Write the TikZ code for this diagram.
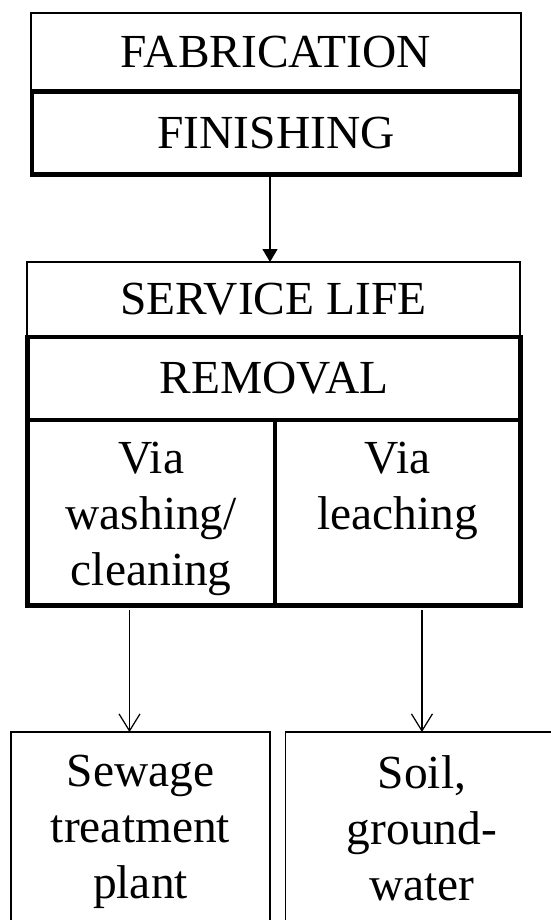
\documentclass[tikz,border=0pt]{standalone}
\usepackage{fontspec}
\setmainfont{Liberation Serif}
\usetikzlibrary{arrows.meta,positioning}
\tikzset{
  box/.style={draw,line width=0.75pt,inner sep=0pt,outer sep=0pt,font=\fontsize{27pt}{31.9pt}\selectfont},
  heavybox/.style={box,line width=2.6pt},
  cell/.style={draw,line width=1.7pt,inner sep=0pt,outer sep=0pt},
  words/.style={inner sep=0pt,align=center,font=\fontsize{27pt}{31.9pt}\selectfont},
  arrow/.style={-{Triangle[length=0.26cm,width=0.3cm]},line width=0.7pt},
  barb/.style={-{Straight Barb[length=0.34cm,width=0.42cm]},line width=0.7pt}
}
\begin{document}
\begin{tikzpicture}[x=0.02cm,y=-0.02cm]
    \useasboundingbox (0,0) rectangle (551,920);
    \clip (0,0) rectangle (551,920);
    \node[box,minimum width=9.8cm,minimum height=1.57cm] (fab) at (276,52.25) {FABRICATION};
    \node[heavybox,minimum width=9.77cm,minimum height=1.66cm] (fin) at (276,133) {FINISHING};
    \node[box,minimum width=9.86cm,minimum height=1.5cm] (serv) at (273.5,299.5) {SERVICE LIFE};
    \node[heavybox,minimum width=9.86cm,minimum height=1.66cm] (rem) at (274,378.5) {REMOVAL};
    \node[cell,minimum width=4.95cm,minimum height=3.71cm] (wash) at (151.25,512.75) {};
    \node[cell,minimum width=4.91cm,minimum height=3.71cm] (leach) at (397.75,512.75) {};
    \draw[line width=2.6pt] (rem.south west) rectangle (leach.south east);
    \node[words,below=0.44cm of wash.north] (washtxt) {Via\\washing/\\cleaning};
    \node[words,below=0.44cm of leach.north] (leachtxt) {Via\\leaching};
    \node[box,minimum width=5.18cm,minimum height=4.56cm] (sew) at (140.5,846) {};
    \node[box,minimum width=5.8cm,minimum height=4.56cm] (soil) at (430.7,846) {};
    \coordinate (soiltop) at ([xshift=-0.175cm]soil.north);
    \coordinate (rs) at (leach.south -| soiltop);
    \node[words,below=0.46cm of sew.north] (sewtxt) {Sewage\\treatment\\plant};
    \node[words,below=0.46cm of soiltop] (soiltxt) {Soil,\\ground-\\water};
    \draw[arrow] ([xshift=-0.12cm]fin.south) -- ([xshift=-0.12cm]fin.south |- serv.north);
    \draw[barb] ([xshift=-0.435cm,yshift=-0.09cm]wash.south) -- ([xshift=-0.435cm]wash.south |- sew.north);
    \draw[barb] ([yshift=-0.09cm]rs) -- (soiltop);
\end{tikzpicture}
\end{document}
